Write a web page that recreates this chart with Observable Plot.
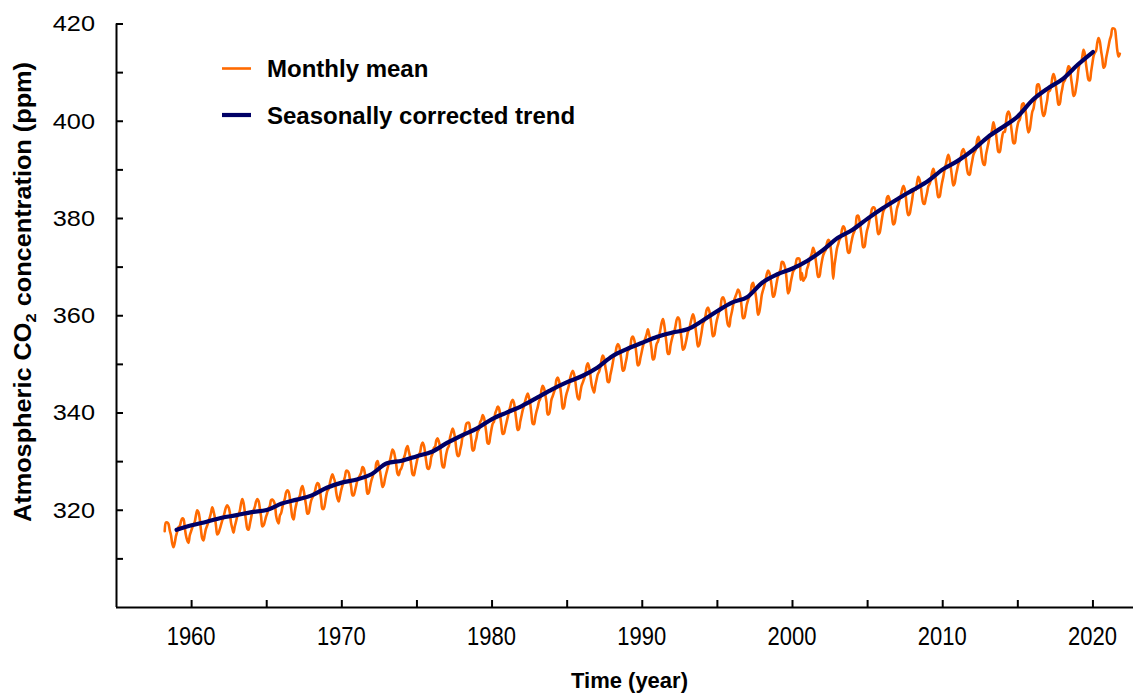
<!DOCTYPE html>
<html>
<head>
<meta charset="utf-8">
<script src="https://cdn.jsdelivr.net/npm/d3@7"></script>
<script src="https://cdn.jsdelivr.net/npm/@observablehq/plot@0.6"></script>
<style>
  html, body { margin: 0; padding: 0; background: #ffffff; }
  #chart svg { display: block; }
</style>
</head>
<body>
<div id="chart"></div>
<script>
// ---------- data ----------
const monthlyStart = [1958, 3]; // year, month of the first monthly value
const monthlyMean = [
  315.7, 317.5, 317.5, 317.2, 315.9, 314.9, 313.2, 312.4, 313.3, 314.7,
  315.6, 316.5, 316.7, 317.7, 318.3, 318.2, 316.5, 314.8, 313.8, 313.3, 314.8, 315.6,
  316.4, 317.0, 317.6, 319.0, 320.0, 319.6, 318.2, 315.9, 314.2, 313.8, 315.0, 316.2,
  316.9, 317.7, 318.5, 319.5, 320.6, 319.8, 318.6, 316.8, 315.0, 315.3, 316.1, 317.0,
  317.9, 318.6, 319.7, 320.6, 321.0, 320.6, 319.6, 317.4, 316.3, 315.4, 316.7, 317.7,
  318.7, 319.1, 319.9, 321.4, 322.3, 321.5, 319.7, 317.8, 316.2, 316.0, 317.1, 318.4,
  319.6, 320.0, 320.7, 321.8, 322.3, 321.9, 320.4, 318.7, 316.7, 316.9, 317.7, 318.7,
  319.4, 320.4, 320.9, 322.1, 322.2, 321.9, 321.2, 318.9, 317.8, 317.3, 318.9, 319.4,
  320.6, 321.6, 322.4, 323.7, 324.1, 323.8, 322.4, 320.4, 318.6, 318.1, 319.8, 321.1,
  322.1, 322.5, 323.0, 324.4, 325.0, 324.1, 322.5, 320.9, 319.3, 319.4, 320.7, 322.0,
  322.6, 323.2, 323.9, 325.0, 325.6, 325.4, 324.1, 322.1, 320.3, 320.3, 321.3, 322.9,
  324.0, 324.4, 325.6, 326.7, 327.4, 326.7, 325.9, 323.7, 322.4, 321.8, 322.9, 324.1,
  325.1, 326.0, 326.9, 328.1, 328.1, 327.7, 326.3, 324.7, 323.1, 323.1, 324.0, 325.1,
  326.2, 326.7, 327.2, 327.8, 328.9, 328.6, 327.4, 325.4, 323.4, 323.6, 324.8, 326.0,
  326.8, 327.6, 327.8, 329.7, 330.1, 329.1, 328.0, 326.3, 324.8, 325.2, 326.5, 327.6,
  328.6, 329.6, 330.3, 331.5, 332.5, 332.1, 330.9, 329.3, 327.5, 327.2, 328.2, 328.6,
  329.4, 330.7, 331.5, 332.7, 333.2, 332.1, 331.0, 329.2, 327.4, 327.2, 328.3, 329.5,
  330.7, 331.4, 331.9, 333.3, 333.9, 333.4, 331.8, 329.9, 328.6, 328.5, 329.3, 331.0,
  331.7, 332.8, 333.1, 334.4, 334.8, 334.1, 333.0, 330.6, 329.0, 328.8, 330.2, 331.7,
  332.7, 333.2, 335.0, 336.0, 336.8, 336.1, 334.7, 332.5, 331.2, 331.2, 332.4, 333.5,
  335.1, 335.3, 336.6, 337.8, 338.0, 338.0, 336.5, 334.4, 332.3, 332.4, 333.8, 334.8,
  336.2, 336.6, 338.1, 338.6, 339.6, 339.1, 337.6, 335.7, 333.8, 333.7, 335.1, 336.6,
  337.8, 338.2, 339.9, 340.6, 341.3, 341.0, 339.4, 337.4, 335.7, 335.8, 336.9, 338.0,
  339.1, 340.3, 341.2, 342.3, 342.7, 342.1, 340.3, 338.3, 336.5, 336.7, 338.2, 339.4,
  340.6, 341.4, 342.5, 343.4, 344.0, 343.2, 341.9, 339.7, 337.8, 337.7, 339.1, 340.3,
  341.2, 342.4, 342.9, 344.8, 345.6, 345.1, 343.8, 342.2, 339.7, 339.8, 341.0, 342.8,
  343.5, 344.3, 345.1, 346.9, 347.3, 346.6, 345.2, 343.1, 340.9, 341.2, 342.8, 344.0,
  344.8, 345.8, 347.3, 348.2, 348.7, 348.0, 346.5, 344.5, 343.1, 342.8, 344.2, 345.6,
  346.3, 347.0, 347.9, 349.6, 350.2, 349.5, 347.9, 345.9, 344.9, 344.2, 345.7, 346.9,
  348.0, 348.5, 349.4, 351.0, 351.8, 351.3, 349.5, 348.1, 346.4, 346.4, 347.8, 349.0,
  350.4, 351.7, 352.2, 353.6, 354.2, 353.8, 352.4, 350.4, 348.7, 348.9, 350.1, 351.3,
  352.8, 353.1, 353.7, 355.4, 355.7, 355.1, 353.9, 351.7, 349.8, 350.0, 351.3, 352.5,
  353.7, 354.7, 355.4, 356.2, 357.2, 356.2, 354.8, 352.9, 351.0, 351.2, 352.8, 354.2,
  354.7, 355.8, 357.2, 358.6, 359.3, 358.2, 356.2, 354.0, 352.2, 352.2, 353.8, 355.0,
  356.0, 356.7, 357.8, 359.2, 359.7, 359.3, 357.0, 355.0, 353.0, 353.3, 354.2, 355.4,
  356.7, 357.2, 358.4, 359.5, 360.3, 359.6, 357.6, 355.5, 353.7, 354.0, 355.3, 356.8,
  358.4, 358.9, 360.0, 361.3, 361.7, 361.0, 359.6, 357.5, 355.8, 356.0, 357.6, 359.0,
  360.0, 361.0, 361.6, 363.5, 363.8, 363.3, 361.9, 359.5, 358.1, 357.8, 359.6, 360.7,
  362.1, 363.3, 364.0, 364.7, 365.4, 365.0, 363.7, 361.5, 359.5, 359.6, 360.8, 362.3,
  363.2, 364.0, 364.6, 366.4, 366.8, 365.6, 364.5, 362.5, 360.2, 360.8, 362.4, 364.3,
  365.3, 366.2, 367.3, 368.6, 369.3, 368.9, 367.6, 365.8, 363.9, 364.2, 365.5, 367.0,
  368.2, 368.9, 369.6, 371.1, 371.0, 370.4, 369.3, 366.9, 364.6, 365.1, 366.7, 368.0,
  369.1, 369.5, 370.5, 371.7, 371.8, 371.7, 367.4, 368.8, 367.2, 367.6, 368.0, 369.5,
  370.3, 371.5, 372.1, 372.9, 374.0, 373.3, 371.6, 369.6, 368.0, 368.1, 369.7, 371.2,
  372.4, 373.1, 373.5, 374.9, 375.6, 375.4, 374.0, 371.5, 367.6, 370.3, 372.1, 373.8,
  374.7, 375.6, 376.1, 377.7, 378.4, 378.1, 376.6, 374.5, 373.0, 373.0, 374.4, 375.7,
  376.8, 377.4, 378.4, 380.5, 380.6, 379.6, 377.8, 375.9, 374.1, 374.2, 375.9, 377.5,
  378.4, 379.7, 380.7, 382.0, 382.3, 382.2, 380.7, 378.6, 376.8, 377.0, 378.3, 380.0,
  381.4, 382.0, 382.6, 384.3, 384.6, 383.9, 382.3, 380.5, 378.8, 379.0, 380.5, 382.1,
  382.9, 383.9, 384.7, 385.9, 386.7, 386.2, 384.5, 381.9, 380.7, 380.9, 382.2, 383.7,
  385.4, 386.0, 385.9, 387.4, 388.6, 388.0, 386.6, 384.4, 383.1, 383.0, 384.2, 385.3,
  386.6, 387.1, 388.0, 389.5, 390.2, 389.3, 387.9, 385.9, 384.4, 384.5, 385.9, 387.4,
  388.6, 390.1, 391.1, 392.3, 393.1, 392.2, 390.4, 388.4, 386.8, 387.2, 388.8, 390.0,
  391.2, 391.8, 392.6, 393.9, 394.3, 393.6, 392.2, 390.1, 389.1, 389.0, 390.4, 391.7,
  393.1, 393.7, 394.2, 396.2, 396.8, 395.8, 394.3, 392.3, 391.2, 391.0, 393.0, 394.3,
  395.5, 396.8, 397.2, 398.3, 399.8, 398.7, 397.5, 395.3, 393.7, 393.7, 395.1, 396.8,
  397.8, 397.8, 399.7, 401.5, 402.0, 401.4, 399.2, 397.2, 395.5, 395.5, 397.2, 398.8,
  399.9, 400.3, 401.6, 403.5, 403.7, 402.9, 401.6, 399.0, 397.7, 398.3, 400.1, 401.9,
  402.6, 404.1, 404.8, 407.5, 407.6, 406.8, 404.4, 402.1, 401.1, 401.5, 403.1, 404.4,
  406.1, 406.3, 407.0, 408.9, 409.7, 409.0, 407.1, 405.1, 403.4, 403.6, 405.4, 406.7,
  408.0, 408.4, 409.2, 410.3, 411.3, 411.0, 408.9, 407.1, 405.2, 405.5, 406.9, 408.5,
  410.8, 411.8, 412.0, 413.3, 414.7, 413.9, 411.7, 409.9, 408.5, 408.4, 410.1, 411.8,
  413.4, 414.1, 414.5, 416.2, 417.1, 416.4, 414.5, 412.9, 411.0, 411.3, 412.9, 414.2,
  415.5, 416.8, 417.6, 419.1, 419.1, 418.9, 417.0, 414.5, 413.3, 413.9
];
const trendYears = [
  1959, 1960, 1961, 1962, 1963, 1964, 1965, 1966, 1967, 1968, 1969,
  1970, 1971, 1972, 1973, 1974, 1975, 1976, 1977, 1978, 1979,
  1980, 1981, 1982, 1983, 1984, 1985, 1986, 1987, 1988, 1989,
  1990, 1991, 1992, 1993, 1994, 1995, 1996, 1997, 1998, 1999,
  2000, 2001, 2002, 2003, 2004, 2005, 2006, 2007, 2008, 2009,
  2010, 2011, 2012, 2013, 2014, 2015, 2016, 2017, 2018, 2019, 2020
];
const trendValues = [
  315.98, 316.91, 317.64, 318.45, 318.99, 319.62, 320.04, 321.37, 322.18, 323.05, 324.62,
  325.68, 326.32, 327.46, 329.68, 330.19, 331.12, 332.03, 333.84, 335.41, 336.84,
  338.76, 340.12, 341.48, 343.15, 344.87, 346.35, 347.61, 349.31, 351.69, 353.20,
  354.45, 355.70, 356.54, 357.21, 358.96, 360.97, 362.74, 363.88, 366.84, 368.54,
  369.71, 371.32, 373.45, 375.98, 377.70, 379.98, 382.09, 384.02, 385.83, 387.64,
  390.10, 391.85, 394.06, 396.74, 398.81, 401.01, 404.41, 406.76, 408.72, 411.66, 414.24
];
const xTicks = [1960, 1965, 1970, 1975, 1980, 1985, 1990, 1995, 2000, 2005, 2010, 2015, 2020];
const xTickLabels = [1960, 1970, 1980, 1990, 2000, 2010, 2020];
const yTicks = [310, 320, 330, 340, 350, 360, 370, 380, 390, 400, 410, 420];
const yTickLabels = [320, 340, 360, 380, 400, 420];
const xDomain = [1955, 2022.7];
const yDomain = [300, 420];
const legendLabels = ["Monthly mean", "Seasonally corrected trend"];
const seriesColors = ["#ff6a00", "#000066"];
const xTitle = "Time (year)";
const yTitleParts = ["Atmospheric CO", "2", " concentration (ppm)"];

// ---------- tables built from the arrays ----------
const monthlyData = monthlyMean.map((v, i) => ({
  date: monthlyStart[0] + (monthlyStart[1] - 1 + i + 0.5) / 12,
  value: v
}));
const trendData = trendYears.map((yr, i) => ({date: yr, value: trendValues[i]}));

const FONT = "'Liberation Sans', Arial, Helvetica, sans-serif";

const svg = Plot.plot({
  width: 1133,
  height: 695,
  marginLeft: 116,
  marginRight: 0,
  marginTop: 23.5,
  marginBottom: 88,
  style: {fontFamily: FONT, fontSize: "22px", color: "#000", background: "#fff", overflow: "visible"},
  x: {domain: xDomain},
  y: {domain: yDomain},
  marks: [
    Plot.line(monthlyData, {x: "date", y: "value", stroke: seriesColors[0], strokeWidth: 2.6, curve: "catmull-rom"}),
    Plot.line(trendData, {x: "date", y: "value", stroke: seriesColors[1], strokeWidth: 4.2, curve: "monotone-x"}),
    // tick marks only (pointing into the plot); labels are added below through the same scales
    Plot.axisX(xTicks, {tickSize: -7, stroke: "#000", fill: "none", strokeWidth: 2, label: null}),
    Plot.axisY(yTicks, {tickSize: -7, stroke: "#000", fill: "none", strokeWidth: 2, label: null}),
    Plot.ruleX([xDomain[0]], {stroke: "#000", strokeWidth: 2}),
    Plot.ruleY([yDomain[0]], {stroke: "#000", strokeWidth: 2})
  ]
});

const s = d3.select(svg);
const xs = svg.scale("x");
const ys = svg.scale("y");

// y tick labels (drawn slightly wide, as in the original)
const yLab = s.append("g").attr("aria-label", "y-axis tick label")
  .attr("font-family", FONT).attr("font-size", 22).attr("fill", "#000");
yTickLabels.forEach(v => {
  yLab.append("text")
    .attr("transform", `translate(95,${ys.apply(v)}) scale(1.15,1)`)
    .attr("text-anchor", "end")
    .attr("dy", "0.36em")
    .text(String(v));
});

// x tick labels (drawn slightly tall, as in the original)
const xLab = s.append("g").attr("aria-label", "x-axis tick label")
  .attr("font-family", FONT).attr("font-size", 22).attr("fill", "#000");
xTickLabels.forEach(v => {
  xLab.append("text")
    .attr("transform", `translate(${xs.apply(v)},627) scale(1,1.15)`)
    .attr("text-anchor", "middle")
    .attr("dy", "0.716em")
    .text(String(v));
});

// x-axis title
s.append("text")
  .attr("x", 629.5).attr("y", 688)
  .attr("text-anchor", "middle")
  .attr("font-family", FONT).attr("font-weight", "bold").attr("font-size", 22)
  .attr("fill", "#000")
  .text(xTitle);

// y-axis title with subscript
const yt = s.append("text")
  .attr("transform", "translate(30.5,292) rotate(-90) scale(1.1,1)")
  .attr("text-anchor", "middle")
  .attr("font-family", FONT).attr("font-weight", "bold").attr("font-size", 23)
  .attr("fill", "#000");
yt.append("tspan").text(yTitleParts[0]);
yt.append("tspan").attr("font-size", 15).attr("dy", 5).text(yTitleParts[1]);
yt.append("tspan").attr("dy", -5).text(yTitleParts[2]);

// legend
const legendRows = [
  {y: 68.5, w: 2.6},
  {y: 115, w: 4.2}
];
legendLabels.forEach((lab, i) => {
  const g = s.append("g");
  g.append("line")
    .attr("x1", 222).attr("x2", 251)
    .attr("y1", legendRows[i].y).attr("y2", legendRows[i].y)
    .attr("stroke", seriesColors[i]).attr("stroke-width", legendRows[i].w);
  g.append("text")
    .attr("x", 267).attr("y", legendRows[i].y)
    .attr("dy", "0.36em")
    .attr("text-anchor", "start")
    .attr("font-family", FONT).attr("font-weight", "bold").attr("font-size", 24)
    .attr("fill", "#000")
    .text(lab);
});

document.getElementById("chart").appendChild(svg);
</script>
</body>
</html>
